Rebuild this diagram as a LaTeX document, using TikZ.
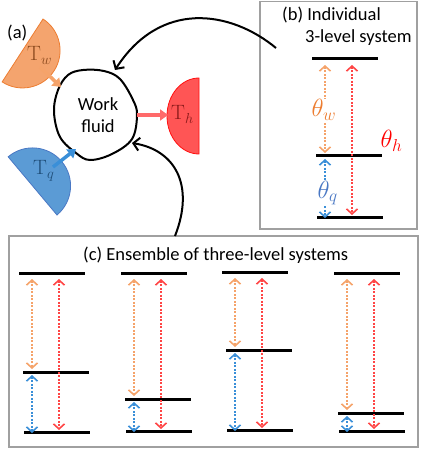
\documentclass[tikz,border=0pt]{standalone}
\usepackage[no-math]{fontspec}
\setmainfont{Carlito}
\usetikzlibrary{arrows.meta}
\definecolor{boxgray}{HTML}{A0A0A0}
\definecolor{wfill}{HTML}{F4A46E}
\definecolor{wedge}{HTML}{ED7D31}
\definecolor{wtext}{HTML}{8C4A1E}
\definecolor{qfill}{HTML}{5B9BD5}
\definecolor{qedge}{HTML}{4A78C4}
\definecolor{qtext}{HTML}{1F4E79}
\definecolor{hfill}{HTML}{FF5555}
\definecolor{hedge}{HTML}{FF1010}
\definecolor{htext}{HTML}{8B1A1A}
\definecolor{warrow}{HTML}{F5A36A}
\definecolor{harrow}{HTML}{FF4545}
\definecolor{qarrow}{HTML}{3A8FD8}
\begin{document}
\begin{tikzpicture}[x=1pt,y=-1pt,
  lvline/.style={line width=3pt},
  panel/.style={draw=boxgray,line width=1.5pt},
  heat/.style={line width=3.5pt,-{Triangle[length=8pt,width=11pt]}},
  link/.style={line width=2pt,-{Straight Barb[length=6pt,width=13pt]}},
  trans/.style={line width=2pt,dash pattern=on 2pt off 1.5pt,
    {Straight Barb[length=5pt,width=11pt,line width=1.6pt]}-{Straight Barb[length=5pt,width=11pt,line width=1.6pt]}},
  lbl/.style={font=\fontsize{18.5}{22}\selectfont,inner sep=0pt},
  res/.style={font=\fontsize{22}{26}\selectfont,inner sep=0pt,anchor=base west},
  theta/.style={font=\fontsize{25}{30}\selectfont,inner sep=0.5pt,anchor=base west}]
\useasboundingbox (0,0) rectangle (420,449);
\draw[panel] (260,1.5) rectangle (417,229);
\draw[panel] (9,236) rectangle (418,447);
\node[lbl,anchor=base west] (alabel) at (7,39) {(a)};
\node[lbl,anchor=base west] (blabel) at (282,21) {(b) Individual};
\node[lbl,anchor=base west] (blabelb) at (305,43) {3-level system};
\node[lbl,anchor=base west] (clabel) at (83,260) {(c) Ensemble of three-level systems};
% reservoirs
\draw[wedge,fill=wfill,line width=0.8pt] (43,19) arc[start angle=-57,end angle=123,radius=37.5] -- cycle;
\draw[qedge,fill=qfill,line width=0.8pt] (57,215) arc[start angle=50,end angle=-130,radius=38] -- cycle;
\draw[hedge,fill=hfill,line width=0.8pt] (199,78) arc[start angle=-90,end angle=-270,x radius=32,y radius=38] -- cycle;
\node[res,text=wtext] (tw) at (27,61) {$\mathrm{T}_w$};
\node[res,text=qtext] (tq) at (33,175) {$\mathrm{T}_q$};
\node[res,text=htext] (th) at (171,120) {$\mathrm{T}_h$};
% work fluid
\draw[line width=2pt] plot[smooth cycle,tension=0.6] coordinates {
  (83,70) (104,71) (120,79) (133,100) (137,115) (132,139) (112,154)
  (90,160) (76,153) (60,137) (54,112) (58,90) (68,75)};
\node[lbl,align=center] (fluid) at (98,115) {Work\\fluid};
\coordinate (wsrc) at (40,67);
\coordinate (wdst) at (61,87);
\coordinate (qsrc) at (53,167);
\coordinate (qdst) at (76,149);
\coordinate (hsrc) at (137,115);
\coordinate (hdst) at (168,115);
\draw[heat,warrow] (wsrc) -- (wdst);
\draw[heat,qarrow] (qsrc) -- (qdst);
\draw[heat,harrow!80!white] (hsrc) -- (hdst);
\coordinate (bsrc) at (276,48);
\coordinate (fluidtop) at (115,70);
\coordinate (csrc) at (175,236);
\coordinate (fluidbot) at (132,143);
\draw[link] (bsrc) .. controls (230,10) and (160,0) .. (fluidtop);
\draw[link] (csrc) .. controls (195,185) and (175,150) .. (fluidbot);
% three-level systems
\foreach \x/\t/\m/\b [count=\i] in {312/59/156/217,19/273/372/432,121/273/399/431,222/272/350/430,334/273/413/431}{
  \draw[lvline] (\x,\t) -- ++(66,0);
  \draw[lvline] (\x+4,\m) -- ++(66,0);
  \draw[lvline] (\x+5,\b) -- ++(66,0);
  \coordinate (wa\i) at (\x+13,\t+6);
  \coordinate (wb\i) at (\x+13,\m-3);
  \coordinate (ha\i) at (\x+40,\t+6);
  \coordinate (hb\i) at (\x+40,\b-2);
  \coordinate (qa\i) at (\x+13,\m+3);
  \coordinate (qb\i) at (\x+13,\b+1);
  \draw[trans,warrow] (wa\i) -- (wb\i);
  \draw[trans,harrow] (ha\i) -- (hb\i);
  \draw[trans,qarrow] (qa\i) -- (qb\i);
}
\node[theta,text=wedge,fill=white] (thw) at (311,117) {$\theta_w$};
\node[theta,text=red] (thh) at (380,148) {$\theta_h$};
\node[theta,text=qedge,fill=white] (thq) at (317,198) {$\theta_q$};
\end{tikzpicture}
\end{document}
